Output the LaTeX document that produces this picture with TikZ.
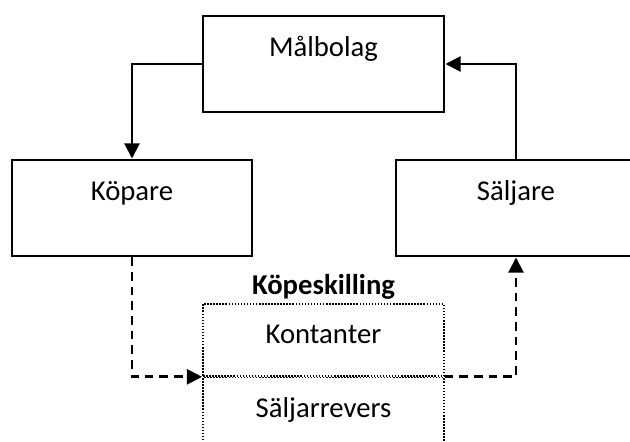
\documentclass[tikz,border=0pt]{standalone}
\usepackage{fontspec}
\setmainfont{Carlito}
\usetikzlibrary{arrows.meta, positioning}
\tikzset{
    x=0.03cm, y=-0.03cm,% one unit is one px, y grows downwards
    >={Triangle[width=0.45cm, length=0.46cm]},
    every node/.style = {font=\fontsize{24.5}{28}\selectfont},
    part/.style = {draw, line width=2.4pt, inner sep=0pt, minimum width=7.2cm, text height=1.2cm, text depth=1.68cm}, % text sits in the upper part of the box
    half/.style = {draw, line width=1.4pt, dash pattern=on 1.3pt off 1.3pt, inner sep=0pt, minimum width=7.23cm, minimum height=2.16cm},
    flow/.style = {line width=2.4pt},
    pay/.style = {line width=2.4pt, dash pattern=on 0.26cm off 0.18cm}
}
\begin{document}
\begin{tikzpicture}
\useasboundingbox (0,0) rectangle (630,442);
\clip (0,0) rectangle (630,442);

\node[part, minimum width=7.23cm] (malbolag) at (323.5,64) {Målbolag};
\node[part] (kopare) at (132,208) {Köpare};
\node[part] (saljare) at (516,208) {Säljare};

% the purchase price, split in two
\node[half, text height=1.17cm, text depth=0.99cm] (kontanter) at (323.5,340) {Kontanter};
\node[half, text height=1.2cm, text depth=0.96cm, below=0pt of kontanter] (revers) {Säljarrevers};
\node[above=0.27cm of kontanter, anchor=base, font=\fontsize{24.5}{28}\selectfont\bfseries] (pris) {Köpeskilling};

\draw[flow,->] (malbolag.west) -| (kopare.north);
\draw[flow,->] (saljare.north) |- (malbolag.east);
\draw[pay,->] (kopare.south) |- (kontanter.south west);
\draw[pay,->] (kontanter.south east) -| (saljare.south);
\end{tikzpicture}
\end{document}
